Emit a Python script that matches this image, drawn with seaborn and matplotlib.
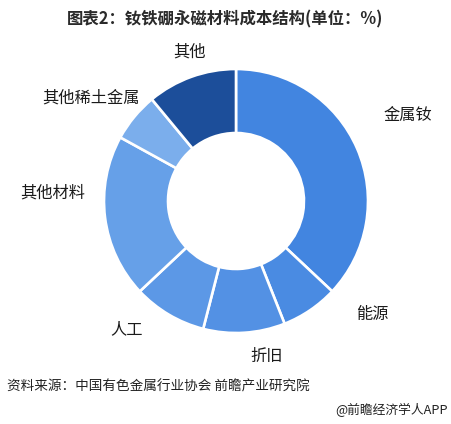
import matplotlib.pyplot as plt
import seaborn as sns

# cost structure of NdFeB magnets (%)
labels = ['金属钕', '能源', '折旧', '人工', '其他材料', '其他稀土金属', '其他']
shares = [37, 7, 10, 9, 20, 6, 11]
colors = ['#4285E0', '#4A8BE2', '#5391E4', '#5C98E6', '#66A0E8', '#7BAEEC', '#1C4E9A']

sns.set_theme(style='white')
plt.rcParams['font.family'] = ['Noto Sans CJK SC', 'DejaVu Sans']

W, H = 451, 424
fig = plt.figure(figsize=(W / 100, H / 100), dpi=100)
ax = fig.add_axes([0, 0, 1, 1])
ax.set_xlim(0, W)
ax.set_ylim(0, H)
ax.set_aspect('equal')
ax.axis('off')

cx, cy, r = 236, H - 201, 132
ax.pie(shares, colors=colors, startangle=90, counterclock=False,
       center=(cx, cy), radius=r,
       wedgeprops=dict(width=r * 0.485, edgecolor='white', linewidth=1.9))
ax.set_xlim(0, W)
ax.set_ylim(0, H)

# label positions (pixels from top-left)
label_pos = [(408, 115), (372, 314), (267, 356), (127, 330),
             (53, 193), (91, 98), (190, 52)]
for lab, (x, y) in zip(labels, label_pos):
    ax.text(x, H - y, lab, ha='center', va='center', fontsize=11.7, color='#1a1a1a')

ax.text(225, H - 19, '图表2：钕铁硼永磁材料成本结构(单位：%)', ha='center', va='center',
        fontsize=11.8, fontweight='bold', color='#2a2a2a')
ax.text(7, H - 386, '资料来源：中国有色金属行业协会 前瞻产业研究院', ha='left', va='center',
        fontsize=9.8, color='#222222')
ax.text(448, H - 410, '@前瞻经济学人APP', ha='right', va='center',
        fontsize=9.2, color='#222222')

fig.savefig('out.png', dpi=100)
